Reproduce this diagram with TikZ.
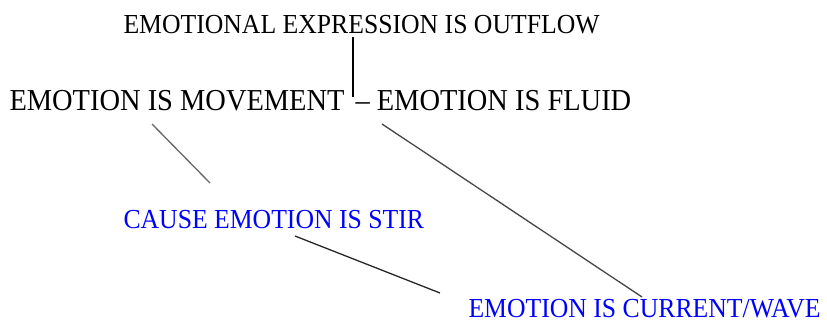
\documentclass[tikz,border=0pt]{standalone}
\usepackage{fontspec}
\setmainfont{Liberation Serif}
% slightly taller capitals
\newcommand{\tallcaps}[1]{\scalebox{1}[1.07]{#1}}
\begin{document}
\begin{tikzpicture}[x=1pt,y=-1pt,
  label/.style={inner sep=0pt,outer sep=0pt,anchor=base west},
  small/.style={label,font=\fontsize{25.7}{30}\selectfont},
  big/.style={label,font=\fontsize{28.45}{34}\selectfont},
  blueterm/.style={small,text=termblue},
  link/.style={draw=linkgray,line width=1.3pt}]
\definecolor{termblue}{RGB}{0,0,255}
\definecolor{linkgray}{RGB}{70,70,70}
\useasboundingbox (0,0) rectangle (827,322);

% metaphor labels
\node[small]    (outflow)  at (123.5,33)  {\tallcaps{EMOTIONAL EXPRESSION IS OUTFLOW}};
\node[big]      (movement) at (9.5,110)   {\tallcaps{EMOTION IS MOVEMENT}};
\node[big]      (fluid)    at (355.5,110) {\tallcaps{– EMOTION IS FLUID}};
\node[blueterm] (stir)     at (123.5,228) {\tallcaps{CAUSE EMOTION IS STIR}};
\node[blueterm] (current)  at (468.5,317) {\tallcaps{EMOTION IS CURRENT/WAVE}};

% connector end points
\coordinate (join)  at (353,97);
\coordinate (mvA)   at (152,124);
\coordinate (stA)   at (210,183);
\coordinate (flA)   at (382,124);
\coordinate (cuA)   at (642,297);
\coordinate (stB)   at (295,236);
\coordinate (cuB)   at (440,293);

% connectors
\draw[link,line width=1.1pt,draw=black,shorten >=4pt] (join) -- (outflow.south -| join);
\draw[link,draw=gray!80!black] (mvA) -- (stA);
\draw[link] (flA) -- (cuA);
\draw[link,draw=black!85] (stB) -- (cuB);
\end{tikzpicture}
\end{document}
